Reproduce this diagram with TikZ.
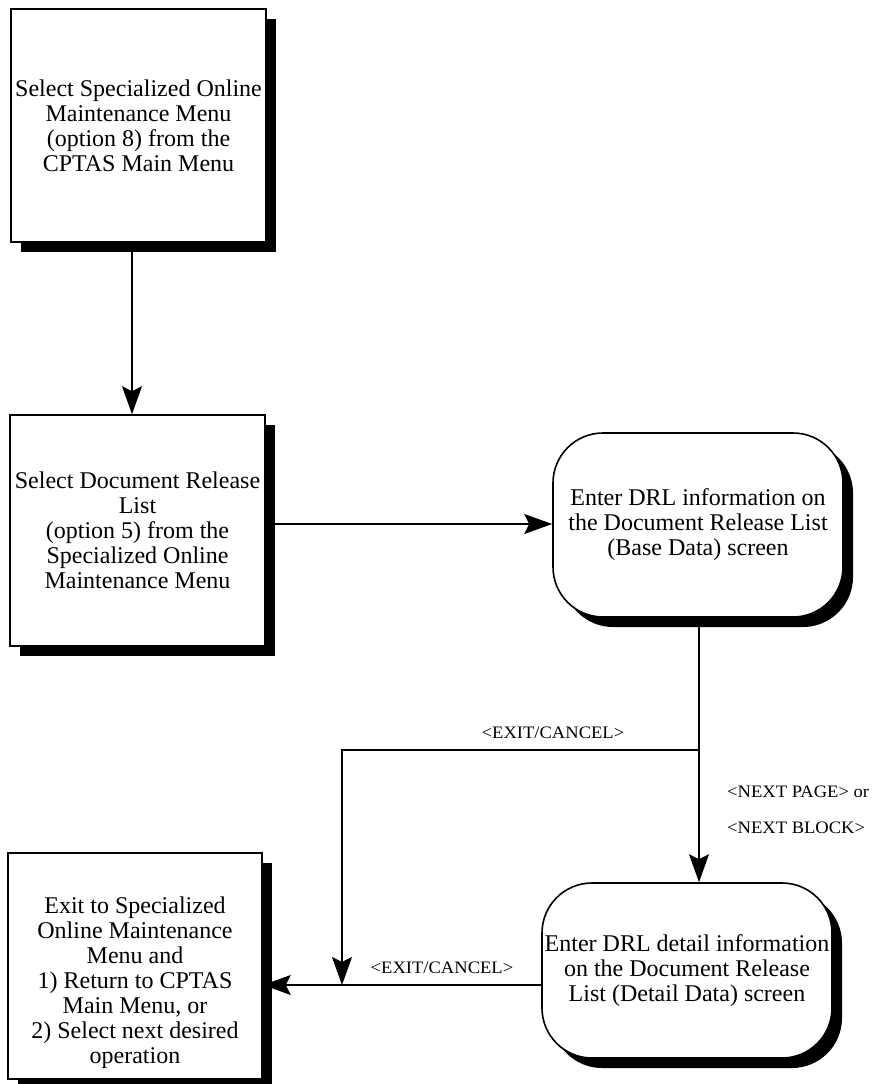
\documentclass[tikz,border=0pt]{standalone}
\usepackage{fontspec}
\setmainfont{Liberation Serif}
\usetikzlibrary{arrows.meta,shadows,calc}

\begin{document}
\begin{tikzpicture}[x=1pt,y=-1pt,
  box/.style={draw, line width=1.6pt, fill=white, align=center, inner sep=0pt,
    font=\fontsize{24}{25}\selectfont,
    drop shadow={shadow xshift=10pt, shadow yshift=-10pt, fill=black, opacity=1}},
  sqbox/.style={box, rectangle},
  rndbox/.style={box, rounded corners=50pt},
  bodytext/.style={align=center, inner sep=0pt, font=\fontsize{24}{25}\selectfont},
  conn/.style={line width=1.3pt},
  arr/.style={conn, -{Stealth[length=28pt,width=20pt,inset=5pt]}},
  lbl/.style={font=\fontsize{17.5}{19}\selectfont, inner sep=0pt}
]
\useasboundingbox (0,0) rectangle (884,1084);

% process boxes
\node[sqbox, minimum width=255pt, minimum height=233pt] (sel) at (138.5,125.5)
  {Select Specialized Online\\Maintenance Menu\\(option 8) from the\\CPTAS Main Menu};
\node[sqbox, minimum width=255pt, minimum height=231pt] (drl) at (137.5,530.5)
  {Select Document Release\\List\\(option 5) from the\\Specialized Online\\Maintenance Menu};
\node[rndbox, minimum width=290pt, minimum height=184pt] (base) at (698,525)
  {Enter DRL information on\\the Document Release List\\(Base Data) screen};
\node[rndbox, minimum width=290pt, minimum height=175pt] (detail) at (687,970.5)
  {Enter DRL detail information\\on the Document Release\\List (Detail Data) screen};
\node[sqbox, minimum width=254pt, minimum height=226pt] (exit) at (135,966) {};
\node[bodytext] (exittxt) at (135,983)
  {Exit to Specialized\\Online Maintenance\\Menu and\\1) Return to CPTAS\\Main Menu, or\\2) Select next desired\\operation};

% routing guides
\coordinate (xa) at (132,0);
\coordinate (ya) at (0,524);
\coordinate (xb) at (699,0);
\coordinate (yb) at (0,750);
\coordinate (xc) at (342,0);
\coordinate (yc) at (0,985);
\coordinate (split) at (xb |- yb);
\coordinate (turn) at (xc |- yb);
\coordinate (join) at (xc |- yc);

% connectors
\draw[arr] (sel.south -| xa) -- (drl.north -| xa);
\draw[arr] (drl.east |- ya) -- (base.west |- ya);
\draw[arr] (base.south -| xb) -- (detail.north -| xb);
\draw[arr] (split) -- (turn) -- (join);
\draw[arr] (detail.west |- yc) -- (exit.east |- yc);

% connector labels
\node[lbl] (cancel1) at (553,733) {\scalebox{1.06}[1]{<EXIT/CANCEL>}};
\node[lbl] (cancel2) at (442,968) {\scalebox{1.06}[1]{<EXIT/CANCEL>}};
\node[lbl, anchor=west] (nextpage) at (727,792) {\scalebox{1.06}[1]{<NEXT PAGE> or}};
\node[lbl, anchor=west] (nextblock) at (727,828) {\scalebox{1.06}[1]{<NEXT BLOCK>}};
\end{tikzpicture}
\end{document}
